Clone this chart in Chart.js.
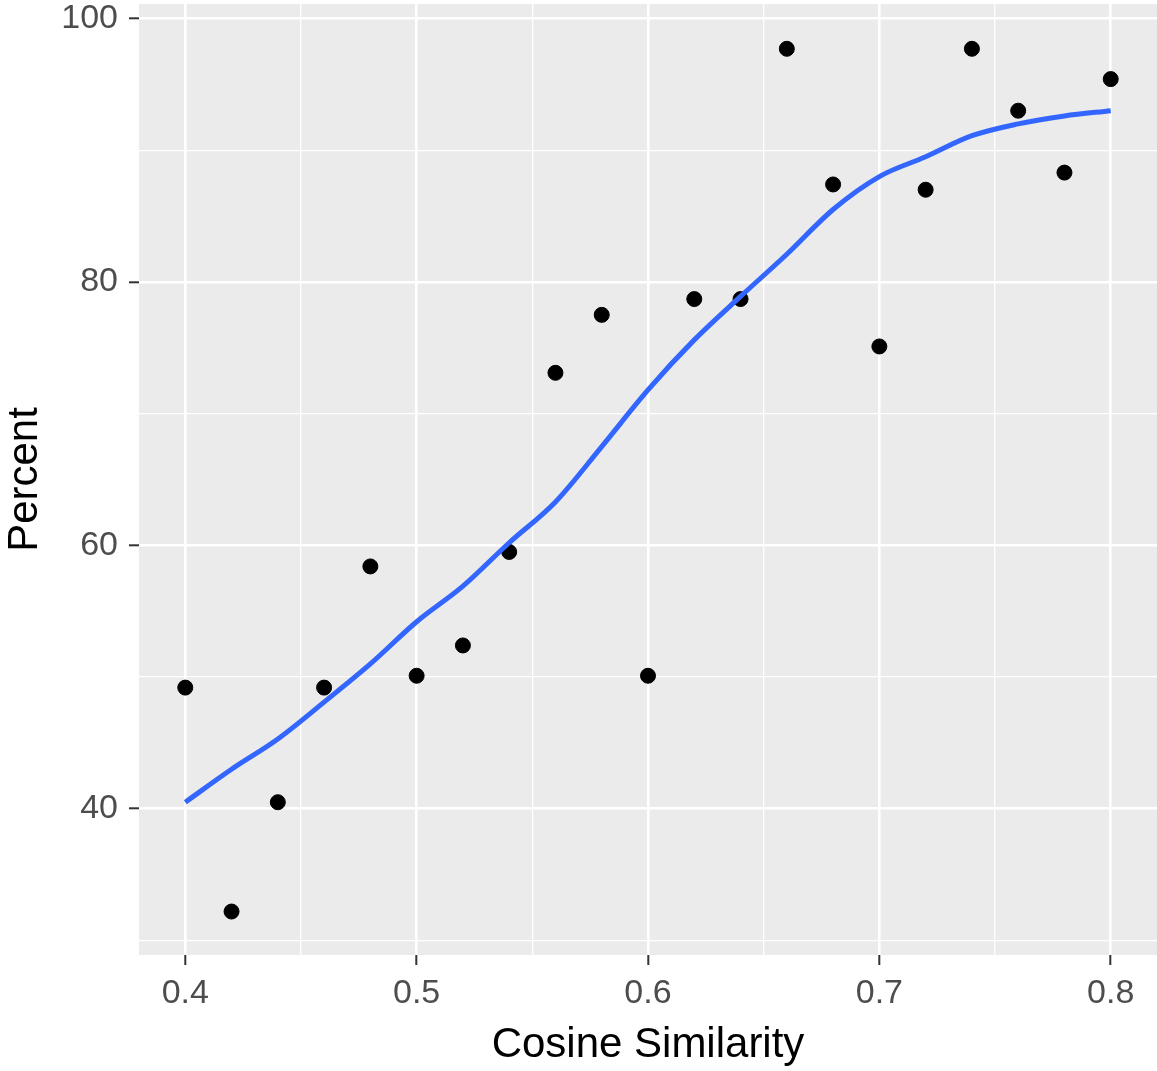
<!DOCTYPE html>
<html>
<head>
<meta charset="utf-8">
<script src="https://cdn.jsdelivr.net/npm/chart.js@4"></script>
<style>
  body { margin: 0; background: #fff; overflow: hidden; }
  #wrap { width: 1157px; height: 1071px; }
</style>
</head>
<body>
<div id="wrap"><canvas id="simChart"></canvas></div>
<script>
// cosine similarity vs percent
var simX = [0.40, 0.42, 0.44, 0.46, 0.48, 0.50, 0.52, 0.54, 0.56, 0.58, 0.60,
            0.62, 0.64, 0.66, 0.68, 0.70, 0.72, 0.74, 0.76, 0.78, 0.80];
var percentY = [49.2, 32.2, 40.5, 49.2, 58.4, 50.1, 52.4, 59.5, 73.1, 77.5, 50.1,
                78.7, 78.7, 97.7, 87.4, 75.1, 87.0, 97.7, 93.0, 88.3, 95.4];

// loess smooth
var smoothX = simX;
var smoothY = [40.5, 43.0, 45.3, 48.1, 51.0, 54.2, 56.9, 60.2, 63.3, 67.5, 71.8,
               75.6, 78.9, 82.1, 85.5, 88.0, 89.5, 91.1, 92.0, 92.6, 93.0];

var xTicks = [0.40, 0.45, 0.50, 0.55, 0.60, 0.65, 0.70, 0.75, 0.80];
var yTicks = [30, 40, 50, 60, 70, 80, 90, 100];
var xLabels = ["0.4", "", "0.5", "", "0.6", "", "0.7", "", "0.8"];
var yLabels = ["", "40", "", "60", "", "80", "", "100"];

function isMajorX(v) { return xLabels[xTicks.indexOf(v)] !== ""; }
function isMajorY(v) { return yLabels[yTicks.indexOf(v)] !== ""; }

// no overhang padding for tick labels, panel runs to the edges
function noPad(s) {
    s.paddingTop = 0;
    s.paddingBottom = 0;
    s.paddingLeft = 0;
    s.paddingRight = 0;
}

var panelBg = {
    id: 'panelBg',
    beforeDraw: function (chart) {
        var a = chart.chartArea;
        chart.ctx.save();
        chart.ctx.fillStyle = '#EBEBEB';
        chart.ctx.fillRect(a.left, a.top, a.right - a.left, a.bottom - a.top);
        chart.ctx.restore();
    }
};

var ctx = document.getElementById('simChart').getContext('2d');
var chart = new Chart(ctx, {
    type: 'scatter',
    data: {
        datasets: [{
            label: 'smooth',
            data: smoothX.map(function (x, i) { return {x: x, y: smoothY[i]}; }),
            showLine: true,
            borderColor: '#3366FF',
            borderWidth: 5,
            pointRadius: 0,
            cubicInterpolationMode: 'monotone',
            order: 0
        }, {
            label: 'points',
            data: simX.map(function (x, i) { return {x: x, y: percentY[i]}; }),
            backgroundColor: '#000',
            borderColor: '#000',
            borderWidth: 1,
            pointRadius: 7.5,
            order: 1
        }]
    },
    options: {
        responsive: true,
        maintainAspectRatio: false,
        animation: false,
        layout: { autoPadding: false, padding: { top: 4, right: 0, left: 0, bottom: 0 } },
        plugins: { legend: { display: false }, tooltip: { enabled: false } },
        scales: {
            x: {
                type: 'linear',
                min: 0.38,
                max: 0.82,
                afterBuildTicks: function (s) { s.ticks = xTicks.map(function (v) { return {value: v}; }); },
                afterFit: function (s) { s.height = 116; noPad(s); },
                border: { display: false },
                grid: {
                    color: '#fff',
                    lineWidth: function (c) { return isMajorX(c.tick.value) ? 2.6 : 1.3; },
                    tickColor: function (c) { return isMajorX(c.tick.value) ? '#333' : 'rgba(0,0,0,0)'; },
                    tickWidth: 2,
                    tickLength: 10
                },
                ticks: {
                    autoSkip: false,
                    maxRotation: 0,
                    padding: 8,
                    color: '#4D4D4D',
                    font: { family: 'Liberation Sans, Arial', size: 34 },
                    callback: function (v) { return xLabels[xTicks.indexOf(v)] || ''; }
                },
                title: {
                    display: true,
                    text: 'Cosine Similarity',
                    color: '#000',
                    padding: { top: 0, bottom: 0 },
                    font: { family: 'Liberation Sans, Arial', size: 42 }
                }
            },
            y: {
                type: 'linear',
                min: 28.9,
                max: 101.1,
                afterBuildTicks: function (s) { s.ticks = yTicks.map(function (v) { return {value: v}; }); },
                afterFit: function (s) { s.width = 139; noPad(s); },
                border: { display: false },
                grid: {
                    color: '#fff',
                    lineWidth: function (c) { return isMajorY(c.tick.value) ? 2.6 : 1.3; },
                    tickColor: function (c) { return isMajorY(c.tick.value) ? '#333' : 'rgba(0,0,0,0)'; },
                    tickWidth: 2,
                    tickLength: 10
                },
                ticks: {
                    autoSkip: false,
                    padding: 11,
                    color: '#4D4D4D',
                    font: { family: 'Liberation Sans, Arial', size: 34 },
                    callback: function (v) { return yLabels[yTicks.indexOf(v)] || ''; }
                },
                title: {
                    display: true,
                    text: 'Percent',
                    color: '#000',
                    padding: { top: 0, bottom: 0 },
                    font: { family: 'Liberation Sans, Arial', size: 42 }
                }
            }
        }
    },
    plugins: [panelBg]
});
</script>
</body>
</html>
